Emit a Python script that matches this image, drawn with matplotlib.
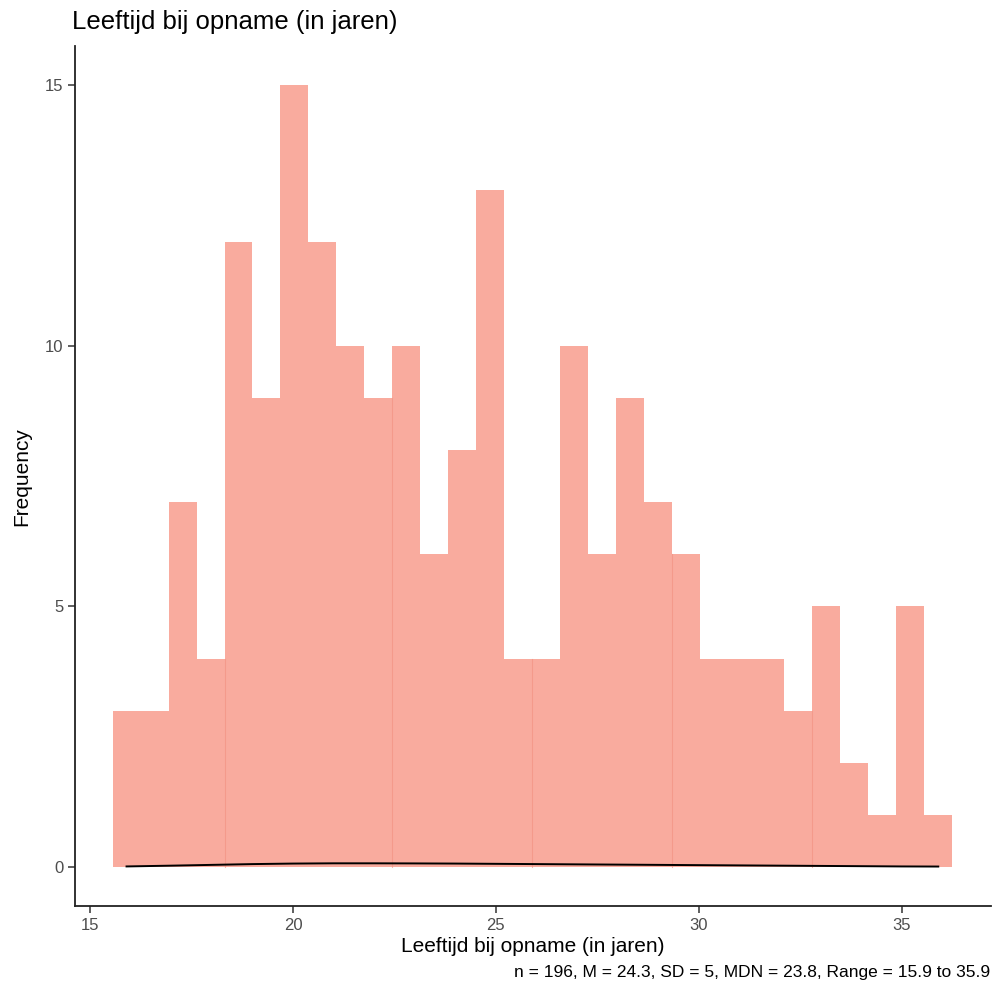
import numpy as np
import matplotlib.pyplot as plt

plt.rcParams['font.family'] = ['Liberation Sans', 'DejaVu Sans']

# histogram: 30 bins between 15.9 and 35.9 (bin width 20/29)
age_min = 15.9
age_max = 35.9
n_bins = 30
counts = [3, 3, 7, 4, 12, 9, 15, 12, 10, 9,
          10, 6, 8, 13, 4, 4, 10, 6, 9, 7,
          6, 4, 4, 4, 3, 5, 2, 1, 5, 1]

# density curve (practically flat near 0)
dens_x = [15.9, 17, 18, 19, 20, 21, 22, 23, 24, 25, 26, 27, 28, 29, 30, 31, 32, 33, 34, 35, 35.9]
dens_y = [0.01, 0.025, 0.04, 0.055, 0.065, 0.07, 0.07, 0.068, 0.065, 0.06, 0.055, 0.05, 0.045, 0.04,
          0.035, 0.03, 0.025, 0.02, 0.015, 0.01, 0.008]

title = 'Leeftijd bij opname (in jaren)'
xlabel = 'Leeftijd bij opname (in jaren)'
ylabel = 'Frequency'
caption = 'n = 196, M = 24.3, SD = 5, MDN = 23.8, Range = 15.9 to 35.9'

width = (age_max - age_min) / (n_bins - 1)
centers = age_min + width * np.arange(n_bins)

fig = plt.figure(figsize=(9.92, 9.86), dpi=100)
ax = fig.add_axes([0.0756, 0.0811, 0.9234, 0.8719])

ax.bar(centers, counts, width=width, color='#F9AB9E', linewidth=0)

# faint seams visible in the original rendering
for i in [4, 10, 15, 20, 25]:
    edge = centers[i] - width / 2
    ax.plot([edge, edge], [0, min(counts[i - 1], counts[i])], color='#F2907F', lw=0.8, alpha=0.6)

ax.plot(dens_x, dens_y, color='black', lw=1.4)

ax.set_xlim(14.63, 37.2)
ax.set_ylim(-0.75, 15.75)
ax.set_xticks([15, 20, 25, 30, 35])
ax.set_yticks([0, 5, 10, 15])

for s in ['top', 'right']:
    ax.spines[s].set_visible(False)
for s in ['left', 'bottom']:
    ax.spines[s].set_linewidth(1.3)
    ax.spines[s].set_color('#222222')

ax.tick_params(axis='both', direction='out', length=5, width=1.1, color='#333333',
               labelsize=12, labelcolor='#4D4D4D')

ax.set_xlabel(xlabel, fontsize=15, color='black', labelpad=3)
ax.set_ylabel(ylabel, fontsize=15, color='black', labelpad=10)

fig.text(72 / 992, 1 - 22 / 986, title, fontsize=18.5, ha='left', va='center')
fig.text(990 / 992, 1 - 972 / 986, caption, fontsize=12.5, ha='right', va='center')

fig.savefig('out.png', dpi=100)
